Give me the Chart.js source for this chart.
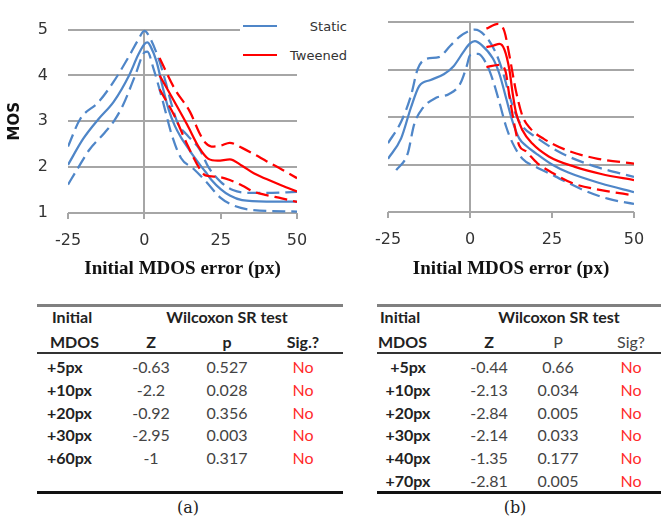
<!DOCTYPE html>
<html>
<head>
<meta charset="utf-8">
<script src="https://cdn.jsdelivr.net/npm/chart.js@4.4.1/dist/chart.umd.min.js"></script>
<style>
  body { margin: 0; background: #fff; width: 661px; height: 517px; overflow: hidden; position: relative; font-family: Lato, sans-serif; }
  canvas { position: absolute; top: 0; }
  .abs { position: absolute; white-space: nowrap; line-height: 1; }
  .rule { position: absolute; }
  #legend { position: absolute; left: 240px; top: 8px; width: 112px; height: 64px; background: #fff; }
  #legend .swatch { position: absolute; left: 3px; width: 34px; height: 2px; }
  #legend .txt { position: absolute; right: 5px; font: 13px "DejaVu Sans", sans-serif; color: #333; line-height: 1; transform: translateY(-50%); }
</style>
</head>
<body>
<canvas id="chartA" width="330" height="285" style="left:0"></canvas>
<canvas id="chartB" width="331" height="285" style="left:330px"></canvas>
<div id="legend">
  <div class="swatch" style="top:17px;background:#4f86c8"></div>
  <span class="txt" style="top:18px">Static</span>
  <div class="swatch" style="top:46px;background:#ff0000"></div>
  <span class="txt" style="top:47px">Tweened</span>
</div>
<div id="tables"></div>
<script>
const xTicks = [-25, 0, 25, 50];
const yTicks = [1, 2, 3, 4, 5];

// (a) static
const aStaticX = [-25, -20, -15, -10, -5, -2, 0, 1, 2, 4, 6, 8, 10, 12, 14, 16, 18, 20, 22, 25, 28, 32, 40, 50];
const aStaticY = [2.05, 2.62, 3.05, 3.43, 4.0, 4.45, 4.68, 4.72, 4.64, 4.3, 3.75, 3.25, 2.9, 2.65, 2.45, 2.25, 2.07, 1.9, 1.72, 1.52, 1.38, 1.28, 1.25, 1.25];
const aStaticHiX = [-25, -21, -15, -10, -5, -2, 0, 2, 5, 7, 9, 11, 14, 18, 21, 25, 29, 34, 40, 50];
const aStaticHiY = [2.45, 3.05, 3.42, 3.87, 4.42, 4.78, 4.97, 4.8, 4.3, 3.85, 3.35, 2.95, 2.7, 2.4, 2.0, 1.68, 1.5, 1.44, 1.44, 1.46];
const aStaticLoX = [-25, -22, -18, -13, -10, -7, -3, 0, 1, 3, 6, 9, 12, 16, 20, 25, 29, 35, 50];
const aStaticLoY = [1.62, 1.95, 2.38, 2.75, 3.0, 3.35, 4.0, 4.5, 4.52, 4.15, 3.45, 2.7, 2.2, 1.97, 1.7, 1.33, 1.17, 1.07, 1.03];
// (a) tweened
const aTweenX = [5, 9.5, 14, 18, 21, 24, 28, 32, 36, 40, 45, 50];
const aTweenY = [4.0, 3.47, 2.93, 2.42, 2.18, 2.14, 2.17, 2.03, 1.86, 1.74, 1.6, 1.47];
const aTweenHiX = [5, 10, 15, 18, 20, 22, 25, 28, 32, 36, 40, 45, 50];
const aTweenHiY = [4.38, 3.7, 3.2, 2.75, 2.53, 2.45, 2.47, 2.53, 2.42, 2.28, 2.13, 1.95, 1.76];
const aTweenLoX = [5, 10, 14, 18, 20, 24, 28, 32, 36, 40, 45, 50];
const aTweenLoY = [3.7, 3.1, 2.5, 1.98, 1.82, 1.79, 1.72, 1.6, 1.46, 1.39, 1.32, 1.24];

// (b) static
const bStaticX = [-25, -21, -18, -15.5, -12, -8, -5, -2, 0, 1.5, 3.5, 7, 9, 11, 13, 15, 17, 20, 25, 30, 40, 50];
const bStaticY = [2.12, 2.55, 3.2, 3.65, 3.78, 3.9, 4.07, 4.37, 4.55, 4.6, 4.52, 4.23, 3.9, 3.4, 2.9, 2.55, 2.4, 2.24, 2.0, 1.83, 1.6, 1.42];
const bStaticHiX = [-25, -21, -18, -16, -13.5, -9.5, -6, -3, 0, 1.5, 5, 8, 10, 12, 14, 16, 20, 25, 30, 38, 50];
const bStaticHiY = [2.45, 2.9, 3.45, 4.0, 4.22, 4.26, 4.5, 4.7, 4.82, 4.84, 4.68, 4.33, 3.95, 3.45, 3.05, 2.8, 2.58, 2.35, 2.17, 1.96, 1.74];
const bStaticLoX = [-22.5, -19, -17, -14.5, -10.5, -6.5, -3, -1, 0, 2.5, 5, 7, 9, 11, 13, 16, 20, 26, 34, 42, 50];
const bStaticLoY = [1.88, 2.23, 2.85, 3.18, 3.4, 3.48, 3.7, 4.07, 4.3, 4.33, 4.12, 3.77, 3.3, 2.8, 2.45, 2.12, 1.95, 1.75, 1.48, 1.28, 1.17];
// (b) tweened
const bTweenX = [5, 7, 9, 10.5, 12, 13, 14, 16, 19, 24, 32, 40, 50];
const bTweenY = [4.47, 4.5, 4.54, 4.42, 4.0, 3.5, 3.1, 2.72, 2.44, 2.17, 1.95, 1.8, 1.67];
const bTweenHiX = [5, 8.5, 10.5, 12, 14, 16, 18.5, 22.5, 29.5, 39, 50];
const bTweenHiY = [4.86, 4.96, 4.8, 4.3, 3.55, 3.02, 2.75, 2.54, 2.3, 2.12, 2.02];
const bTweenLoX = [5, 9, 10.8, 12, 13.5, 15, 17, 20.5, 25.5, 31.5, 40, 50];
const bTweenLoY = [4.05, 4.1, 3.97, 3.45, 2.85, 2.4, 2.28, 2.03, 1.81, 1.6, 1.46, 1.35];

// tables
const aRows = ["+5px", "+10px", "+20px", "+30px", "+60px"];
const aZ = ["-0.63", "-2.2", "-0.92", "-2.95", "-1"];
const aP = ["0.527", "0.028", "0.356", "0.003", "0.317"];
const aSig = ["No", "No", "No", "No", "No"];
const bRows = ["+5px", "+10px", "+20px", "+30px", "+40px", "+70px"];
const bZ = ["-0.44", "-2.13", "-2.84", "-2.14", "-1.35", "-2.81"];
const bP = ["0.66", "0.034", "0.005", "0.033", "0.177", "0.005"];
const bSig = ["No", "No", "No", "No", "No", "No"];

const BLUE = "#4f86c8";
const RED = "#ff0000";
const GRID = "#a6a6a6";
const TEXT = "#333";

function lineSet(xs, ys, color, dashed) {
  return {
    data: xs.map((x, i) => ({ x: x, y: ys[i] })),
    borderColor: color,
    borderWidth: 2.25,
    borderDash: dashed ? [13, 6] : [],
    pointRadius: 0,
    cubicInterpolationMode: "monotone",
    fill: false
  };
}

function buildChart(id, sets, opt) {
  return new Chart(document.getElementById(id), {
    type: "line",
    data: { datasets: sets },
    options: {
      responsive: false,
      animation: false,
      devicePixelRatio: 1,
      layout: { padding: { top: opt.top, right: opt.right, left: 0, bottom: 0 } },
      plugins: { legend: { display: false }, tooltip: { enabled: false } },
      scales: {
        x: {
          type: "linear",
          min: -25,
          max: 50,
          afterBuildTicks: s => { s.ticks = xTicks.map(v => ({ value: v })); },
          grid: {
            color: c => (c.tick && c.tick.value === 0 ? GRID : "rgba(0,0,0,0)"),
            tickColor: GRID,
            tickLength: 6,
            lineWidth: 2
          },
          border: { display: false },
          ticks: { font: { family: "DejaVu Sans", size: 16 }, color: TEXT, padding: 12, maxRotation: 0 },
          title: {
            display: true,
            text: "Initial MDOS error (px)",
            font: { family: "Liberation Serif", size: 19, weight: "bold" },
            color: "#111",
            padding: { top: 0, bottom: 5 }
          },
          afterFit: s => { s.height = 285 - opt.bottom; }
        },
        y: {
          min: 1,
          max: 5,
          afterBuildTicks: s => { s.ticks = yTicks.map(v => ({ value: v })); },
          grid: { color: GRID, lineWidth: 2, drawTicks: false },
          border: { display: false },
          ticks: { display: opt.showY, font: { family: "DejaVu Sans", size: 16 }, color: TEXT, padding: 20 },
          title: {
            display: opt.showY,
            text: "MOS",
            font: { family: "DejaVu Sans", size: 15, weight: "bold" },
            color: "#111",
            padding: { top: 6, bottom: 0 }
          },
          afterFit: s => { s.width = opt.left; }
        }
      }
    }
  });
}

buildChart("chartA", [
  lineSet(aTweenX, aTweenY, RED, false),
  lineSet(aTweenHiX, aTweenHiY, RED, true),
  lineSet(aTweenLoX, aTweenLoY, RED, true),
  lineSet(aStaticX, aStaticY, BLUE, false),
  lineSet(aStaticHiX, aStaticHiY, BLUE, true),
  lineSet(aStaticLoX, aStaticLoY, BLUE, true)
], { top: 19, right: 33, left: 68, bottom: 213, showY: true });

buildChart("chartB", [
  lineSet(bTweenX, bTweenY, RED, false),
  lineSet(bTweenHiX, bTweenHiY, RED, true),
  lineSet(bTweenLoX, bTweenLoY, RED, true),
  lineSet(bStaticX, bStaticY, BLUE, false),
  lineSet(bStaticHiX, bStaticHiY, BLUE, true),
  lineSet(bStaticLoX, bStaticLoY, BLUE, true)
], { top: 22, right: 27, left: 58, bottom: 212, showY: false });

// tables as text
const host = document.getElementById("tables");

function put(text, x, y, align, style) {
  const s = document.createElement("span");
  s.className = "abs";
  s.textContent = text;
  s.style.left = x + "px";
  s.style.top = y + "px";
  const tx = align === "center" ? "-50%" : "0";
  s.style.transform = "translate(" + tx + ",-50%)";
  s.style.cssText += style || "";
  host.appendChild(s);
}

function rule(x1, x2, y, h, color) {
  const d = document.createElement("div");
  d.className = "rule";
  d.style.left = x1 + "px";
  d.style.width = (x2 - x1) + "px";
  d.style.top = (y - h / 2) + "px";
  d.style.height = h + "px";
  d.style.background = color;
  host.appendChild(d);
}

const BOLD = "font-weight:700;font-size:16px;color:#222;";
const REG = "font-size:16px;color:#444;";
const NO = "font-size:16px;color:#ff2a2a;";

function table(t) {
  rule(t.x1, t.x2, 305, 3, "#808080");
  rule(t.x1, t.x2, 353, 2, "#333");
  rule(t.x1, t.x2, 492, 3, "#111");
  put("Initial", t.headX, 317, "left", BOLD);
  put("MDOS", t.headX - 2, 342, "left", BOLD);
  put("Wilcoxon SR test", t.wilX, 317, "center", BOLD);
  put("Z", t.zX, 342, "center", BOLD);
  put(t.pHead, t.pX, 342, "center", t.headBold ? BOLD : REG);
  put(t.sigHead, t.sigX, 342, "center", t.headBold ? BOLD : REG);
  t.rows.forEach((r, i) => {
    const y = 367 + i * 22.8;
    put(r, t.rowX, y, t.rowAlign, BOLD);
    put(t.z[i], t.zX, y, "center", REG);
    put(t.p[i], t.pX, y, "center", REG);
    put(t.sig[i], t.sigX, y, "center", NO);
  });
  put(t.caption, t.capX, 508, "center", "font-family:'DejaVu Serif',serif;font-size:16px;color:#222;");
}

table({ x1: 37, x2: 343, headX: 52, wilX: 227, zX: 151, pX: 227, sigX: 303, rowX: 47, rowAlign: "left",
  pHead: "p", sigHead: "Sig.?", headBold: true, rows: aRows, z: aZ, p: aP, sig: aSig, caption: "(a)", capX: 188 });
table({ x1: 377, x2: 661, headX: 380, wilX: 559, zX: 489, pX: 558, sigX: 631, rowX: 408, rowAlign: "center",
  pHead: "P", sigHead: "Sig?", headBold: false, rows: bRows, z: bZ, p: bP, sig: bSig, caption: "(b)", capX: 515 });
</script>
</body>
</html>
